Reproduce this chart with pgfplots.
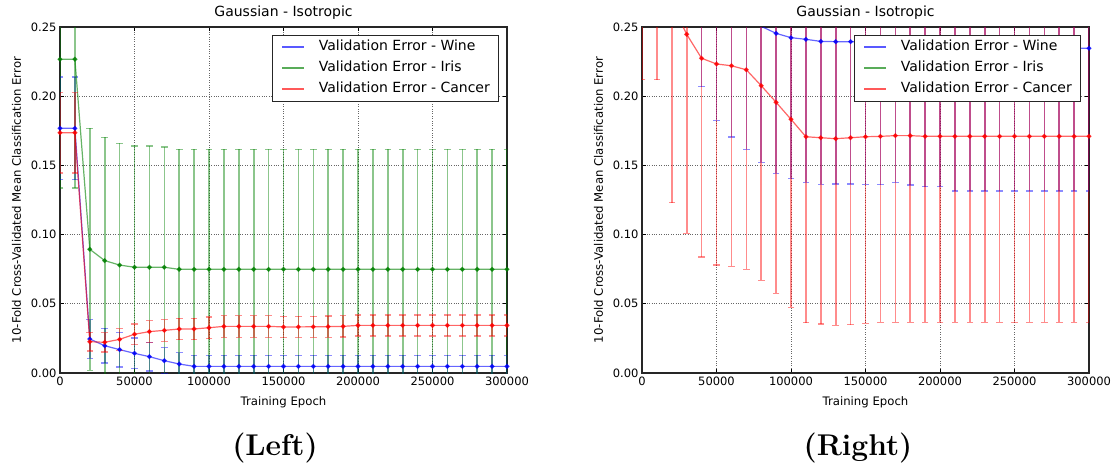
\documentclass[border=0pt]{standalone}
\usepackage{fontspec}
\usepackage{pgfplots}
\usepackage{pgfplotstable}
\pgfplotsset{compat=1.18}
\newfontfamily\dejavu{DejaVu Sans}

% Isotropic Gaussian model: mean 10-fold CV error and its spread per epoch
\pgfplotstableread{
x      wine   wineerr iris   iriserr cancer cancererr
0      0.1768 0.0370  0.2267 0.0930  0.1736 0.0290
10000  0.1768 0.0370  0.2267 0.0930  0.1736 0.0290
20000  0.0246 0.0140  0.0894 0.0875  0.0226 0.0068
30000  0.0197 0.0125  0.0812 0.0890  0.0222 0.0070
40000  0.0169 0.0125  0.0780 0.0880  0.0243 0.0078
50000  0.0142 0.0110  0.0764 0.0876  0.0280 0.0073
60000  0.0118 0.0104  0.0764 0.0876  0.0299 0.0078
70000  0.0089 0.0094  0.0764 0.0870  0.0308 0.0078
80000  0.0065 0.0082  0.0749 0.0866  0.0318 0.0078
90000  0.0048 0.0080  0.0749 0.0866  0.0318 0.0078
100000 0.0048 0.0080  0.0749 0.0866  0.0327 0.0078
110000 0.0048 0.0080  0.0749 0.0866  0.0337 0.0078
120000 0.0048 0.0080  0.0749 0.0866  0.0337 0.0078
130000 0.0048 0.0080  0.0749 0.0866  0.0337 0.0078
140000 0.0048 0.0080  0.0749 0.0866  0.0337 0.0078
150000 0.0048 0.0080  0.0749 0.0866  0.0333 0.0076
160000 0.0048 0.0080  0.0749 0.0866  0.0333 0.0076
170000 0.0048 0.0080  0.0749 0.0866  0.0334 0.0076
180000 0.0048 0.0080  0.0749 0.0866  0.0335 0.0076
190000 0.0048 0.0080  0.0749 0.0866  0.0337 0.0076
200000 0.0048 0.0080  0.0749 0.0866  0.0344 0.0076
210000 0.0048 0.0080  0.0749 0.0866  0.0344 0.0076
220000 0.0048 0.0080  0.0749 0.0866  0.0344 0.0076
230000 0.0048 0.0080  0.0749 0.0866  0.0344 0.0076
240000 0.0048 0.0080  0.0749 0.0866  0.0344 0.0076
250000 0.0048 0.0080  0.0749 0.0866  0.0344 0.0076
260000 0.0048 0.0080  0.0749 0.0866  0.0344 0.0076
270000 0.0048 0.0080  0.0749 0.0866  0.0344 0.0076
280000 0.0048 0.0080  0.0749 0.0866  0.0344 0.0076
290000 0.0048 0.0080  0.0749 0.0866  0.0344 0.0076
300000 0.0048 0.0080  0.0749 0.0866  0.0344 0.0076
}\leftdata

\pgfplotstableread{
x      wine   wineerr iris   iriserr cancer cancererr
0      0.4200 0.1000  0.4600 0.0900  0.3520 0.1400
10000  0.4200 0.1000  0.4600 0.0900  0.3520 0.1400
20000  0.4000 0.1000  0.4580 0.0900  0.2670 0.1440
30000  0.3600 0.1000  0.4560 0.0900  0.2447 0.1438
40000  0.3070 0.1000  0.4540 0.0900  0.2274 0.1436
50000  0.2830 0.1004  0.4520 0.0900  0.2233 0.1453
60000  0.2710 0.1005  0.4500 0.0900  0.2220 0.1449
70000  0.2620 0.1004  0.4490 0.0900  0.2191 0.1442
80000  0.2505 0.0983  0.4480 0.0900  0.2076 0.1406
90000  0.2454 0.1011  0.4470 0.0900  0.1956 0.1380
100000 0.2423 0.1016  0.4460 0.0900  0.1833 0.1358
110000 0.2411 0.1033  0.4450 0.0900  0.1707 0.1343
120000 0.2396 0.1033  0.4450 0.0900  0.1700 0.1346
130000 0.2394 0.1028  0.4450 0.0900  0.1693 0.1348
140000 0.2394 0.1028  0.4450 0.0900  0.1700 0.1350
150000 0.2390 0.1027  0.4450 0.0900  0.1707 0.1348
160000 0.2385 0.1025  0.4450 0.0900  0.1710 0.1344
170000 0.2385 0.1007  0.4450 0.0900  0.1715 0.1349
180000 0.2380 0.1022  0.4450 0.0900  0.1715 0.1349
190000 0.2375 0.1029  0.4450 0.0900  0.1710 0.1344
200000 0.2370 0.1024  0.4450 0.0900  0.1710 0.1344
210000 0.2346 0.1031  0.4450 0.0900  0.1710 0.1344
220000 0.2346 0.1031  0.4450 0.0900  0.1710 0.1344
230000 0.2346 0.1031  0.4450 0.0900  0.1710 0.1344
240000 0.2346 0.1031  0.4450 0.0900  0.1710 0.1344
250000 0.2346 0.1031  0.4450 0.0900  0.1710 0.1344
260000 0.2346 0.1031  0.4450 0.0900  0.1710 0.1344
270000 0.2346 0.1031  0.4450 0.0900  0.1710 0.1344
280000 0.2346 0.1031  0.4450 0.0900  0.1710 0.1344
290000 0.2346 0.1031  0.4450 0.0900  0.1710 0.1344
300000 0.2346 0.1031  0.4450 0.0900  0.1710 0.1344
}\rightdata

\definecolor{mplgreen}{rgb}{0,0.5,0}

% legend keys: a plain 22pt line in the series colour
\pgfplotsset{legend image code/.code={\draw[#1] (0pt,0pt) -- (22pt,0pt);}}

\pgfplotsset{
  cvaxis/.style={
    scale only axis, width=447pt, height=346pt,
    xmin=0, xmax=300000, ymin=0, ymax=0.25,
    xtick={0,50000,100000,150000,200000,250000,300000},
    ytick={0,0.05,0.10,0.15,0.20,0.25},
    scaled x ticks=false, scaled y ticks=false,
    xticklabel style={/pgf/number format/.cd, fixed, 1000 sep={}},
    yticklabel style={/pgf/number format/.cd, fixed, fixed zerofill, precision=2},
    /pgf/number format/assume math mode=true,
    tick label style={font=\dejavu\fontsize{11.5}{13}\selectfont},
    tick align=inside, major tick length=4pt,
    tick style={black, line width=0.8pt},
    grid=major, major grid style={dotted, black!60, line width=0.7pt},
    axis line style={line width=1.1pt, black!85},
    title={Gaussian - Isotropic},
    title style={font=\dejavu\fontsize{14}{16}\selectfont,
      at={(axis description cs:0.5,1)}, anchor=base, yshift=5pt},
    xlabel={Training Epoch},
    xlabel style={font=\dejavu\fontsize{11.7}{14}\selectfont,
      at={(axis description cs:0.5,0)}, anchor=base, yshift=-32pt},
    ylabel={10-Fold Cross-Validated Mean Classification Error},
    ylabel style={font=\dejavu\fontsize{11.7}{14}\selectfont,
      at={(axis description cs:-0.0973,0.5)}, anchor=center},
    legend cell align=left,
    legend style={at={(1,1)}, anchor=north east, xshift=-7.7pt, yshift=-7.7pt,
      draw=black!85, line width=1pt,
      font=\dejavu\fontsize{14}{16}\selectfont,
      inner xsep=9pt, inner ysep=1.5pt, column sep=14pt, row sep=0pt,
      nodes={inner xsep=0pt, inner ysep=3.75pt, text height=10.5pt, text depth=3pt}},
  },
  series/.style={color=#1, draw opacity=0.6, line width=1.2pt,
    mark=*, mark size=1.8pt, mark options={draw opacity=0.75, fill opacity=0.75},
    forget plot,
    error bars/.cd, y dir=both, y explicit,
    error bar style={line width=1.6pt, opacity=0.45},
    error mark options={rotate=90, line width=1.3pt, mark size=3.3pt, opacity=0.45}},
  key/.style={color=#1, draw opacity=0.65, line width=1.5pt},
}

\begin{document}
\begin{tikzpicture}
\useasboundingbox (0,0) rectangle (1114pt,464pt);

\begin{axis}[cvaxis, at={(60pt,91pt)}, anchor=south west]
  \addplot[series=blue] table[x=x, y=wine, y error=wineerr] {\leftdata};
  \addplot[series=mplgreen] table[x=x, y=iris, y error=iriserr] {\leftdata};
  \addplot[series=red] table[x=x, y=cancer, y error=cancererr] {\leftdata};
  \addlegendimage{key=blue}
  \addlegendentry{Validation Error - Wine}
  \addlegendimage{key=mplgreen}
  \addlegendentry{Validation Error - Iris}
  \addlegendimage{key=red}
  \addlegendentry{Validation Error - Cancer}
\end{axis}

\begin{axis}[cvaxis, at={(642pt,91pt)}, anchor=south west]
  \addplot[series=blue] table[x=x, y=wine, y error=wineerr] {\rightdata};
  \addplot[series=mplgreen] table[x=x, y=iris, y error=iriserr] {\rightdata};
  \addplot[series=red] table[x=x, y=cancer, y error=cancererr] {\rightdata};
  \addlegendimage{key=blue}
  \addlegendentry{Validation Error - Wine}
  \addlegendimage{key=mplgreen}
  \addlegendentry{Validation Error - Iris}
  \addlegendimage{key=red}
  \addlegendentry{Validation Error - Cancer}
\end{axis}

\node[anchor=base, font=\fontsize{30}{36}\selectfont\bfseries] at (275pt,9pt) {(Left)};
\node[anchor=base, font=\fontsize{30}{36}\selectfont\bfseries] at (858pt,9pt) {(Right)};
\end{tikzpicture}
\end{document}
